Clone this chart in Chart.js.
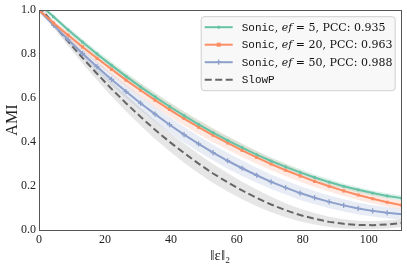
<!DOCTYPE html>
<html><head><meta charset="utf-8">
<script src="https://cdn.jsdelivr.net/npm/chart.js@4.4.0/dist/chart.umd.min.js"></script>
<style>html,body{margin:0;padding:0;background:#fff;}#wrap{width:407px;height:267px;position:relative}</style>
</head><body><div id="wrap"><canvas id="c" width="407" height="267"></canvas></div>
<script>
// ---- data ----
const epsilon = [0, 4.4, 8.8, 13.2, 17.6, 22, 26.4, 30.8, 35.2, 39.6, 44, 48.4, 52.8, 57.2, 61.6, 66, 70.4, 74.8, 79.2, 83.6, 88, 92.4, 96.8, 101.2, 105.6, 110];
const sonicEf5  = [1.030, 0.970, 0.911, 0.855, 0.801, 0.749, 0.699, 0.651, 0.606, 0.562, 0.520, 0.481, 0.443, 0.408, 0.375, 0.343, 0.314, 0.287, 0.262, 0.239, 0.218, 0.199, 0.183, 0.168, 0.155, 0.145];
const sonicEf20 = [1.000, 0.942, 0.887, 0.833, 0.781, 0.731, 0.682, 0.636, 0.591, 0.548, 0.507, 0.468, 0.431, 0.396, 0.362, 0.330, 0.300, 0.272, 0.246, 0.221, 0.199, 0.178, 0.159, 0.142, 0.126, 0.113];
const sonicEf50 = [1.000, 0.932, 0.866, 0.803, 0.743, 0.685, 0.630, 0.577, 0.527, 0.479, 0.434, 0.392, 0.352, 0.315, 0.281, 0.249, 0.219, 0.193, 0.168, 0.147, 0.128, 0.112, 0.098, 0.087, 0.078, 0.072];
const slowP     = [1.020, 0.937, 0.858, 0.783, 0.711, 0.642, 0.577, 0.515, 0.456, 0.401, 0.350, 0.302, 0.257, 0.217, 0.180, 0.146, 0.116, 0.090, 0.068, 0.051, 0.037, 0.028, 0.023, 0.022, 0.025, 0.032];
// half-widths of the shaded bands
const spreadEf5  = [0.008, 0.010, 0.012, 0.014, 0.015, 0.016, 0.017, 0.018, 0.018, 0.018, 0.018, 0.018, 0.018, 0.017, 0.017, 0.016, 0.016, 0.015, 0.015, 0.014, 0.014, 0.013, 0.013, 0.012, 0.012, 0.012];
const spreadEf20 = [0.008, 0.012, 0.016, 0.020, 0.023, 0.026, 0.028, 0.030, 0.031, 0.032, 0.032, 0.032, 0.032, 0.031, 0.030, 0.029, 0.028, 0.027, 0.026, 0.025, 0.024, 0.023, 0.022, 0.021, 0.020, 0.020];
const spreadEf50 = [0.008, 0.012, 0.016, 0.020, 0.024, 0.027, 0.030, 0.032, 0.034, 0.035, 0.036, 0.036, 0.036, 0.036, 0.035, 0.034, 0.033, 0.032, 0.031, 0.030, 0.029, 0.028, 0.027, 0.026, 0.025, 0.025];
const spreadSlowP= [0.010, 0.015, 0.020, 0.025, 0.030, 0.034, 0.037, 0.040, 0.042, 0.043, 0.044, 0.044, 0.043, 0.042, 0.040, 0.038, 0.035, 0.032, 0.029, 0.026, 0.023, 0.021, 0.019, 0.018, 0.018, 0.018];
const xTicks = [0, 20, 40, 60, 80, 100];
const yTicks = [0, 0.2, 0.4, 0.6, 0.8, 1.0];
const efValues = [5, 20, 50];
const pccValues = ['0.935', '0.963', '0.988'];
const methodNames = ['Sonic', 'Sonic', 'Sonic', 'SlowP'];

// ---- styles ----
const colors = ['#66c2a5', '#fc8d62', '#8da0cb', '#666666'];
const bandColors = ['rgba(102,194,165,0.22)', 'rgba(252,141,98,0.18)', 'rgba(141,160,203,0.2)', 'rgba(128,128,128,0.2)'];
const pointStyles = ['circle', 'rect', 'cross', false];
const pointRadii = [1.6, 2.2, 2.6, 0];
const series = [sonicEf5, sonicEf20, sonicEf50, slowP];
const spreads = [spreadEf5, spreadEf20, spreadEf50, spreadSlowP];

const pts = arr => epsilon.map((x, i) => ({x, y: arr[i]}));
const ptsOff = (arr, sp, s) => epsilon.map((x, i) => ({x, y: arr[i] + s * sp[i]}));

const datasets = [];
series.forEach((s, k) => {
  datasets.push({
    data: pts(s), borderColor: colors[k], backgroundColor: colors[k],
    borderWidth: 2, borderDash: k === 3 ? [7, 3.5] : [],
    pointStyle: pointStyles[k], pointRadius: pointRadii[k], pointBorderWidth: k === 2 ? 1.3 : 0,
    pointBorderColor: colors[k], pointBackgroundColor: colors[k],
    fill: false, tension: 0, clip: 0
  });
});
series.forEach((s, k) => {
  datasets.push({ data: ptsOff(s, spreads[k], 1), borderWidth: 0, borderColor: 'transparent', pointRadius: 0, fill: false, clip: 0 });
  datasets.push({ data: ptsOff(s, spreads[k], -1), borderWidth: 0, borderColor: 'transparent', pointRadius: 0, fill: '-1', backgroundColor: bandColors[k], clip: 0 });
});

const SERIF = '"Liberation Serif", "DejaVu Serif", serif';
const LSERIF = '"DejaVu Serif", serif';
const MONO = '"Liberation Mono", "DejaVu Sans Mono", monospace';

const framePlugin = {
  id: 'frameAndLegend',
  afterDraw(chart) {
    const {ctx, chartArea: a} = chart;
    ctx.save();
    ctx.strokeStyle = '#555';
    ctx.lineWidth = 1;
    ctx.strokeRect(Math.round(a.left) + 0.5, Math.round(a.top) + 0.5, Math.round(a.right - a.left) - 1, Math.round(a.bottom - a.top));
    // legend
    const bx = a.right - 201, by = a.top + 6, bw = 194, bh = 74;
    ctx.beginPath();
    ctx.roundRect(bx + 0.5, by + 0.5, bw, bh, 3);
    ctx.fillStyle = 'rgba(247,247,247,0.92)';
    ctx.fill();
    ctx.strokeStyle = '#cfcfcf';
    ctx.stroke();
    const rowH = 17.5;
    for (let k = 0; k < 4; k++) {
      const cy = by + 11 + k * rowH;
      const lx0 = bx + 4, lx1 = bx + 32;
      ctx.beginPath();
      ctx.strokeStyle = colors[k];
      ctx.lineWidth = 2;
      ctx.setLineDash(k === 3 ? [7, 3.5] : []);
      ctx.moveTo(lx0, cy); ctx.lineTo(lx1, cy); ctx.stroke();
      ctx.setLineDash([]);
      const mx = (lx0 + lx1) / 2;
      ctx.fillStyle = colors[k];
      if (k === 0) { ctx.beginPath(); ctx.arc(mx, cy, 1.6, 0, Math.PI * 2); ctx.fill(); }
      if (k === 1) { ctx.fillRect(mx - 2, cy - 2, 4, 4); }
      if (k === 2) { ctx.lineWidth = 1.3; ctx.beginPath(); ctx.moveTo(mx, cy - 2.6); ctx.lineTo(mx, cy + 2.6); ctx.moveTo(mx - 2.6, cy); ctx.lineTo(mx + 2.6, cy); ctx.stroke(); }
      let tx = bx + 41;
      ctx.fillStyle = '#111';
      ctx.textBaseline = 'middle';
      const segs = k < 3
        ? [[methodNames[k], '11px ' + MONO], [', ', '11px ' + LSERIF], ['ef', 'italic 11px ' + LSERIF], [' = ' + efValues[k] + ', PCC: ' + pccValues[k], '11px ' + LSERIF]]
        : [[methodNames[k], '11px ' + MONO]];
      segs.forEach(([t, f]) => { ctx.font = f; ctx.fillText(t, tx, cy + 0.5); tx += ctx.measureText(t).width; });
    }
    ctx.restore();
  }
};

new Chart(document.getElementById('c'), {
  type: 'line',
  data: { datasets },
  options: {
    responsive: false, animation: false, devicePixelRatio: 1,
    layout: { padding: { left: 0, top: 8, right: 3, bottom: 0 } },
    plugins: { legend: { display: false }, tooltip: { enabled: false }, filler: { drawTime: 'beforeDatasetsDraw' } },
    scales: {
      x: {
        type: 'linear', min: 0, max: 110,
        grid: { display: false, drawTicks: false }, border: { display: false },
        afterBuildTicks: s => { s.ticks = xTicks.map(v => ({value: v})); },
        afterFit: s => { s.height = 37; },
        ticks: { padding: 3, color: '#222', font: { family: SERIF, size: 12 }, maxRotation: 0 },
        title: { display: true, text: '‖ε‖₂', color: '#222', font: { family: SERIF, size: 15 }, padding: { top: 0, bottom: 2 } }
      },
      y: {
        type: 'linear', min: 0, max: 1,
        grid: { display: false, drawTicks: false }, border: { display: false },
        afterBuildTicks: s => { s.ticks = yTicks.map(v => ({value: v})); },
        afterFit: s => { s.width = 39; },
        ticks: { padding: 3, color: '#222', font: { family: SERIF, size: 12 }, callback: v => v.toFixed(1) },
        title: { display: true, text: 'AMI', color: '#222', font: { family: SERIF, size: 16 }, padding: { top: 3, bottom: 0 } }
      }
    }
  },
  plugins: [framePlugin]
});
</script></body></html>
